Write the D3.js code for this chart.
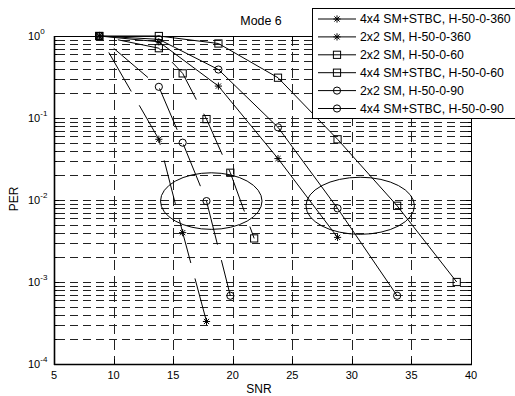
<!DOCTYPE html>
<html>
<head>
<meta charset="utf-8">
<script src="https://cdn.jsdelivr.net/npm/d3@7"></script>
<style>
  body { margin: 0; background: #fff; }
  svg { display: block; font-family: Arial, "Liberation Sans", sans-serif; }
</style>
</head>
<body>
<div id="chart"></div>
<script>
// SNR values (dB) used by the two kinds of curves
const snrLong = [8.8, 13.8, 18.8, 23.8, 28.8, 33.8, 38.8];
const snrShort = [8.8, 13.8, 15.8, 17.8, 19.8, 21.8];

// PER values
const per4x4_360 = [1, 0.055, 0.004, 0.00033];
const per2x2_360 = [1, 0.85, 0.245, 0.032, 0.0035];
const per2x2_60 = [1, 1, 0.81, 0.31, 0.055, 0.0085, 0.001];
const per4x4_60 = [1, 0.71, 0.35, 0.097, 0.0215, 0.0034];
const per2x2_90 = [1, 0.91, 0.39, 0.077, 0.0079, 0.00068];
const per4x4_90 = [1, 0.24, 0.05, 0.0097, 0.00068];

const legendLabels = [
    "4x4 SM+STBC, H-50-0-360",
    "2x2 SM, H-50-0-360",
    "2x2 SM, H-50-0-60",
    "4x4 SM+STBC, H-50-0-60",
    "2x2 SM, H-50-0-90",
    "4x4 SM+STBC, H-50-0-90"
];

const xTicks = [5, 10, 15, 20, 25, 30, 35, 40];
const yExponents = [0, -1, -2, -3, -4];

// annotation ellipses: centre (SNR, PER), half width in dB, half height in decades
const ellipseSnr = [18.2, 30.7];
const ellipsePer = [0.0097, 0.0085];
const ellipseHalfDb = [4.26, 4.55];
const ellipseHalfDec = [0.345, 0.348];

const series = [
    {name: legendLabels[0], snr: snrShort, per: per4x4_360, marker: "star", dashed: true},
    {name: legendLabels[1], snr: snrLong, per: per2x2_360, marker: "star", dashed: false},
    {name: legendLabels[2], snr: snrLong, per: per2x2_60, marker: "square", dashed: false},
    {name: legendLabels[3], snr: snrShort, per: per4x4_60, marker: "square", dashed: true},
    {name: legendLabels[4], snr: snrLong, per: per2x2_90, marker: "circle", dashed: false},
    {name: legendLabels[5], snr: snrShort, per: per4x4_90, marker: "circle", dashed: true}
];

const W = 515, H = 396;
const margin = {top: 36, right: 44, bottom: 32, left: 54},
    width = W - margin.left - margin.right,
    height = H - margin.top - margin.bottom;

const svg = d3.select("#chart")
    .append("svg")
    .attr("width", W)
    .attr("height", H);

svg.append("rect").attr("width", W).attr("height", H).attr("fill", "#fff");

const g = svg.append("g")
    .attr("transform", "translate(" + margin.left + "," + margin.top + ")");

const x = d3.scaleLinear().domain([5, 40]).range([0, width]);
const y = d3.scaleLog().domain([1e-4, 1]).range([height, 0]);

// grid values: 1..9 x 10^k
const gridY = [];
for (let k = -4; k < 0; k++) {
    for (let m = 1; m < 10; m++) gridY.push(m * Math.pow(10, k));
}
const minorY = gridY.filter(v => Math.abs(Math.log10(v) - Math.round(Math.log10(v))) > 1e-9);

// horizontal dashed grid
g.append("g").selectAll("line")
    .data(gridY.filter(v => v > 1e-4))
    .join("line")
    .attr("x1", 0).attr("x2", width)
    .attr("y1", d => Math.round(y(d)) + 0.5).attr("y2", d => Math.round(y(d)) + 0.5)
    .attr("stroke", "#222").attr("stroke-width", 1)
    .attr("stroke-dasharray", "8,5").attr("stroke-dashoffset", -3);

// vertical dashed grid
g.append("g").selectAll("line")
    .data(xTicks.slice(1, -1))
    .join("line")
    .attr("x1", d => Math.round(x(d)) + 0.5).attr("x2", d => Math.round(x(d)) + 0.5)
    .attr("y1", 0).attr("y2", height)
    .attr("stroke", "#222").attr("stroke-width", 1)
    .attr("stroke-dasharray", "10,6");

// box
g.append("rect").attr("x", 0.5).attr("y", 0.5).attr("width", width).attr("height", height)
    .attr("fill", "none").attr("stroke", "#000").attr("stroke-width", 1);
g.append("line").attr("x1", 0.5).attr("x2", 0.5).attr("y1", 0).attr("y2", height + 1)
    .attr("stroke", "#000").attr("stroke-width", 1.6);
g.append("line").attr("x1", 0).attr("x2", width + 1).attr("y1", height + 0.5).attr("y2", height + 0.5)
    .attr("stroke", "#000").attr("stroke-width", 1.6);

// ticks (inward, on all four sides)
const ticks = g.append("g").attr("stroke", "#000").attr("stroke-width", 1);
xTicks.forEach(t => {
    const px = Math.round(x(t)) + 0.5;
    ticks.append("line").attr("x1", px).attr("x2", px).attr("y1", height).attr("y2", height - 5);
    ticks.append("line").attr("x1", px).attr("x2", px).attr("y1", 0).attr("y2", 5);
});
yExponents.forEach(e => {
    const py = Math.round(y(Math.pow(10, e))) + 0.5;
    ticks.append("line").attr("x1", 0).attr("x2", 5).attr("y1", py).attr("y2", py);
    ticks.append("line").attr("x1", width).attr("x2", width - 5).attr("y1", py).attr("y2", py);
});
minorY.forEach(v => {
    const py = Math.round(y(v)) + 0.5;
    ticks.append("line").attr("x1", 0).attr("x2", 3).attr("y1", py).attr("y2", py);
    ticks.append("line").attr("x1", width).attr("x2", width - 3).attr("y1", py).attr("y2", py);
});

// tick labels
g.append("g").selectAll("text")
    .data(xTicks)
    .join("text")
    .attr("x", d => x(d)).attr("y", height + 15)
    .attr("text-anchor", "middle")
    .style("font-size", "11px")
    .text(d => d);

const yl = g.append("g").selectAll("text")
    .data(yExponents)
    .join("text")
    .attr("x", -26).attr("y", d => y(Math.pow(10, d)) + 4)
    .style("font-size", "11px");
yl.append("tspan").text("10");
yl.append("tspan").attr("dy", -6).style("font-size", "8px").text(d => d);

// axis labels and title
svg.append("text").attr("x", margin.left + x(22.2)).attr("y", 393)
    .attr("text-anchor", "middle").style("font-size", "12px").text("SNR");
svg.append("text").attr("transform", "translate(17.5,199) rotate(-90)")
    .attr("text-anchor", "middle").style("font-size", "12px").text("PER");
svg.append("text").attr("x", 261).attr("y", 25)
    .attr("text-anchor", "middle").style("font-size", "12.4px").text("Mode 6");

// markers
function drawMarker(sel, type, cx, cy) {
    if (type === "circle") {
        sel.append("circle").attr("cx", cx).attr("cy", cy).attr("r", 3.6)
            .attr("fill", "none").attr("stroke", "#000").attr("stroke-width", 1);
    } else if (type === "square") {
        sel.append("rect").attr("x", cx - 3.6).attr("y", cy - 3.6).attr("width", 7.2).attr("height", 7.2)
            .attr("fill", "none").attr("stroke", "#000").attr("stroke-width", 1);
    } else {
        const r = 3.6, q = r * 0.72;
        sel.append("path")
            .attr("d", `M${cx - r},${cy}L${cx + r},${cy}M${cx},${cy - r}L${cx},${cy + r}` +
                `M${cx - q},${cy - q}L${cx + q},${cy + q}M${cx - q},${cy + q}L${cx + q},${cy - q}`)
            .attr("fill", "none").attr("stroke", "#000").attr("stroke-width", 1);
    }
}

const line = d3.line().x(d => x(d[0])).y(d => y(d[1]));

series.forEach(s => {
    const pts = s.snr.slice(0, s.per.length).map((v, i) => [v, s.per[i]]);
    g.append("path")
        .datum(pts)
        .attr("d", line)
        .attr("fill", "none")
        .attr("stroke", "#000")
        .attr("stroke-width", 1)
        .attr("stroke-dasharray", s.dashed ? "45,16" : null)
        .attr("stroke-dashoffset", s.dashed ? 42 : null);
    const mg = g.append("g");
    pts.forEach(p => drawMarker(mg, s.marker, x(p[0]), y(p[1])));
});

// ellipses
ellipseSnr.forEach((c, i) => {
    const cx = x(c), cy = y(ellipsePer[i]);
    g.append("ellipse")
        .attr("cx", cx).attr("cy", cy)
        .attr("rx", x(c + ellipseHalfDb[i]) - cx)
        .attr("ry", cy - y(ellipsePer[i] * Math.pow(10, ellipseHalfDec[i])))
        .attr("fill", "none").attr("stroke", "#000").attr("stroke-width", 1);
});

// legend
const legend = svg.append("g");
legend.append("rect").attr("x", 312.5).attr("y", 8.5).attr("width", 210).attr("height", 110)
    .attr("fill", "#fff").attr("stroke", "#000").attr("stroke-width", 1);
series.forEach((s, i) => {
    const ly = 19 + i * 17.9;
    legend.append("line").attr("x1", 318).attr("x2", 356).attr("y1", ly).attr("y2", ly)
        .attr("stroke", "#000").attr("stroke-width", 1);
    drawMarker(legend, s.marker, 337, ly);
    legend.append("text").attr("x", 360).attr("y", ly + 4.3)
        .style("font-size", "12.3px").text(s.name);
});
</script>
</body>
</html>
